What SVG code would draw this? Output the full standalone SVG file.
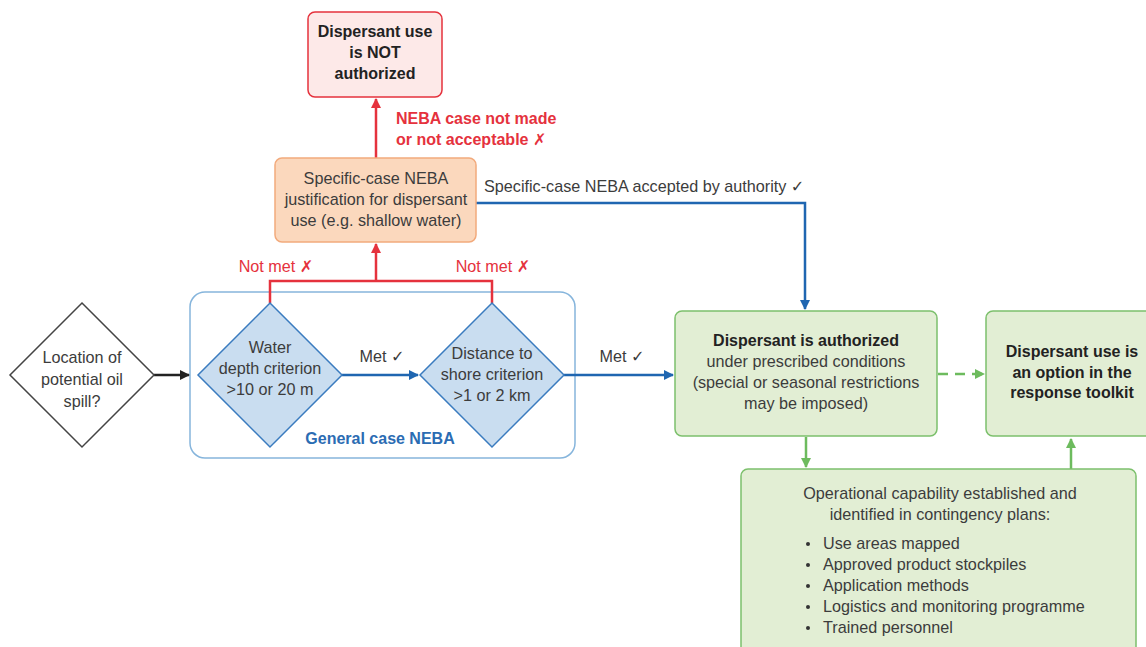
<svg xmlns="http://www.w3.org/2000/svg" width="1146" height="647" viewBox="0 0 1146 647">
<style>
text{font-family:"Liberation Sans",Arial,sans-serif;font-size:16.2px;fill:#3c3c3c;text-anchor:middle}
.b{font-weight:bold;font-size:16px;fill:#222}
.red{fill:#e5323d;font-size:16px;font-weight:bold}
.redn{fill:#e5323d}
.blu{fill:#2b6cb3;font-weight:bold;font-size:16px}
.l{text-anchor:start}
.sym{font-family:"DejaVu Sans",sans-serif}
</style>
<defs>
<marker id="ar" viewBox="0 0 10 10" refX="9" refY="5" markerWidth="10" markerHeight="10" markerUnits="userSpaceOnUse" orient="auto"><path d="M0,0 L10,5 L0,10 z" fill="#e5323d"/></marker>
<marker id="ab" viewBox="0 0 10 10" refX="9" refY="5" markerWidth="10" markerHeight="10" markerUnits="userSpaceOnUse" orient="auto"><path d="M0,0 L10,5 L0,10 z" fill="#1f66b1"/></marker>
<marker id="ak" viewBox="0 0 10 10" refX="9" refY="5" markerWidth="10" markerHeight="10" markerUnits="userSpaceOnUse" orient="auto"><path d="M0,0 L10,5 L0,10 z" fill="#222"/></marker>
<marker id="ag" viewBox="0 0 10 10" refX="9" refY="5" markerWidth="10" markerHeight="10" markerUnits="userSpaceOnUse" orient="auto"><path d="M0,0 L10,5 L0,10 z" fill="#6dbb5e"/></marker>
</defs>
<rect width="1146" height="647" fill="#fff"/>

<g id="group-general">
<rect x="190" y="292" width="385" height="166" rx="15" fill="none" stroke="#86b5dc" stroke-width="1.5"/>
<text class="blu" x="380" y="444">General case NEBA</text>
</g>

<g id="connectors" fill="none" stroke-width="2.5">
<path d="M376,172 V99" stroke="#e5323d" marker-end="url(#ar)"/>
<path d="M270,303 V281 H492 V303" stroke="#e5323d"/>
<path d="M376,281 V244" stroke="#e5323d" marker-end="url(#ar)"/>
<path d="M476,203 H805 V309" stroke="#1f66b1" marker-end="url(#ab)"/>
<path d="M154,375 H189" stroke="#222" marker-end="url(#ak)"/>
<path d="M342,375 H418" stroke="#1f66b1" marker-end="url(#ab)"/>
<path d="M564,375 H673" stroke="#1f66b1" marker-end="url(#ab)"/>
<path d="M938,374 H984" stroke="#6dbb5e" stroke-dasharray="10,7" marker-end="url(#ag)"/>
<path d="M806,437 V467" stroke="#6dbb5e" marker-end="url(#ag)"/>
<path d="M1071,469 V439" stroke="#6dbb5e" marker-end="url(#ag)"/>
</g>

<g id="labels">
<text class="red l" x="396" y="124">NEBA case not made</text>
<text class="red l" x="396" y="145">or not acceptable <tspan class="sym">✗</tspan></text>
<text class="l" x="484" y="192">Specific-case NEBA accepted by authority <tspan class="sym">✓</tspan></text>
<text class="redn" x="276" y="272">Not met <tspan class="sym">✗</tspan></text>
<text class="redn" x="493" y="272">Not met <tspan class="sym">✗</tspan></text>
<text x="382" y="362">Met <tspan class="sym">✓</tspan></text>
<text x="622" y="362">Met <tspan class="sym">✓</tspan></text>
</g>

<g id="node-not-authorized">
<rect x="308" y="12" width="134" height="85" rx="7" fill="#fde9e8" stroke="#e5323d" stroke-width="1.5"/>
<text class="b" x="375" y="37">Dispersant use</text>
<text class="b" x="375" y="58">is NOT</text>
<text class="b" x="375" y="79">authorized</text>
</g>

<g id="node-specific">
<rect x="275" y="158" width="201" height="84" rx="7" fill="#fbd8bd" stroke="#f2aa7c" stroke-width="1.5"/>
<text x="376" y="184">Specific-case NEBA</text>
<text x="376" y="205">justification for dispersant</text>
<text x="376" y="226">use (e.g. shallow water)</text>
</g>

<g id="node-location">
<path d="M82,303 L154,375 L82,447 L10,375 Z" fill="#fff" stroke="#444" stroke-width="1.5"/>
<text x="82" y="363">Location of</text>
<text x="82" y="385">potential oil</text>
<text x="82" y="407">spill?</text>
</g>

<g id="node-depth">
<path d="M270,303 L342,375 L270,447 L198,375 Z" fill="#c9ddf0" stroke="#3a7bbf" stroke-width="1.5"/>
<text x="270" y="353">Water</text>
<text x="270" y="374">depth criterion</text>
<text x="270" y="395">&gt;10 or 20 m</text>
</g>

<g id="node-distance">
<path d="M492,303 L564,375 L492,447 L420,375 Z" fill="#c9ddf0" stroke="#3a7bbf" stroke-width="1.5"/>
<text x="492" y="359">Distance to</text>
<text x="492" y="380">shore criterion</text>
<text x="492" y="401">&gt;1 or 2 km</text>
</g>

<g id="node-authorized">
<rect x="675" y="311" width="262" height="125" rx="7" fill="#e2eed4" stroke="#7cc06c" stroke-width="1.5"/>
<text class="b" x="806" y="346">Dispersant is authorized</text>
<text x="806" y="367">under prescribed conditions</text>
<text x="806" y="388">(special or seasonal restrictions</text>
<text x="806" y="409">may be imposed)</text>
</g>

<g id="node-option">
<rect x="986" y="311" width="170" height="125" rx="7" fill="#e2eed4" stroke="#7cc06c" stroke-width="1.5"/>
<text class="b" x="1072" y="357">Dispersant use is</text>
<text class="b" x="1072" y="378">an option in the</text>
<text class="b" x="1072" y="398">response toolkit</text>
</g>

<g id="node-operational">
<rect x="741" y="469" width="395" height="200" rx="7" fill="#e2eed4" stroke="#7cc06c" stroke-width="1.5"/>
<text x="940" y="499">Operational capability established and</text>
<text x="940" y="520">identified in contingency plans:</text>
<g fill="#333"><circle cx="808" cy="544" r="2"/><circle cx="808" cy="565" r="2"/><circle cx="808" cy="586" r="2"/><circle cx="808" cy="607" r="2"/><circle cx="808" cy="628" r="2"/></g>
<text class="l" x="823" y="549">Use areas mapped</text>
<text class="l" x="823" y="570">Approved product stockpiles</text>
<text class="l" x="823" y="591">Application methods</text>
<text class="l" x="823" y="612">Logistics and monitoring programme</text>
<text class="l" x="823" y="633">Trained personnel</text>
</g>
</svg>
